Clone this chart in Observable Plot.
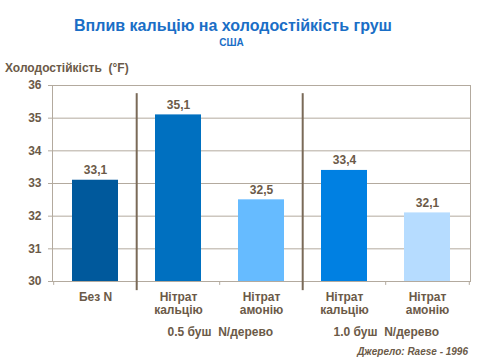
<!DOCTYPE html>
<html>
<head>
<meta charset="utf-8">
<script src="https://cdn.jsdelivr.net/npm/d3@7"></script>
<script src="https://cdn.jsdelivr.net/npm/@observablehq/plot@0.6"></script>
<style>
  html, body { margin: 0; padding: 0; background: #fff; }
  #wrap { position: relative; width: 480px; height: 360px; font-family: "Liberation Sans", Arial, sans-serif; overflow: hidden; }
  .t { position: absolute; white-space: nowrap; font-weight: bold; }
  #title { left: 0; width: 466px; top: 17px; text-align: center; font-size: 16px; color: #1a6ec6; }
  #sub { left: 0; width: 463px; top: 37px; text-align: center; font-size: 10px; color: #1a6ec6; }
  #ylab { left: 5px; top: 61px; font-size: 12px; color: #6b5a48; }
  #src { right: 12px; top: 346px; font-size: 10px; font-style: italic; color: #6b5a48; }
  #chart { position: absolute; left: 0; top: 78px; }
</style>
</head>
<body>
<div id="wrap">
  <div class="t" id="title">Вплив кальцію на холодостійкість груш</div>
  <div class="t" id="sub">США</div>
  <div class="t" id="ylab">Холодостійкість&nbsp; (°F)</div>
  <div id="chart"></div>
  <div class="t" id="src">Джерело: Raese - 1996</div>
</div>
<script>
const keys = ["none", "ca05", "am05", "ca10", "am10"];
const labels = ["Без N", "Нітрат\nкальцію", "Нітрат\nамонію", "Нітрат\nкальцію", "Нітрат\nамонію"];
const values = [33.1, 35.1, 32.5, 33.4, 32.1];
const colors = ["#00599c", "#0070c0", "#66bbff", "#0080e2", "#b6dcff"];
const groupLabels = ["0.5 буш  N/дерево", "1.0 буш  N/дерево"];
const groupAfter = ["ca05", "ca10"];   // group label sits at the right edge of this category
const separatorBefore = ["ca05", "ca10"];
const yTicks = [30, 31, 32, 33, 34, 35, 36];

const data = keys.map((k, i) => ({key: k, label: labels[i], value: values[i], color: colors[i]}));
const labelOf = Object.fromEntries(keys.map((k, i) => [k, labels[i]]));

const W = 480, H = 282, mL = 52, mR = 10, mT = 7, mB = 79;
const step = (W - mL - mR) / keys.length;
const ink = "#6b5a48", grid = "#b3aa9e";

const chart = Plot.plot({
  width: W, height: H,
  marginLeft: mL, marginRight: mR, marginTop: mT, marginBottom: mB,
  style: {fontFamily: "Liberation Sans, Arial, sans-serif", fontSize: "12px", color: ink, fontWeight: "bold"},
  x: {domain: keys, paddingInner: 0.44, paddingOuter: 0.22, label: null},
  y: {domain: [30, 36], label: null},
  color: {type: "identity"},
  marks: [
    Plot.ruleY(yTicks, {stroke: grid, strokeWidth: 1}),
    Plot.frame({stroke: grid, strokeWidth: 1}),
    Plot.axisY({ticks: yTicks, tickFormat: d => String(d), tickSize: 4, tickPadding: 7, stroke: grid, fill: ink, fontSize: 12, fontWeight: "bold"}),
    Plot.ruleX(keys, {x: d => d, dx: -step / 2, y1: 30, y2: 29.88, stroke: grid}),
    Plot.ruleX([keys[keys.length - 1]], {x: d => d, dx: step / 2, y1: 30, y2: 29.88, stroke: grid}),
    Plot.barY(data, {x: "key", y1: 30, y2: "value", fill: "color"}),
    Plot.text(data, {x: "key", y: "value", text: d => d.value.toFixed(1).replace(".", ","), dy: -10, fill: ink, fontSize: 12, fontWeight: "bold"}),
    Plot.ruleX(separatorBefore, {x: d => d, dx: -step / 2, y1: 35.75, y2: 29.72, stroke: "#7a6a58", strokeWidth: 2}),
    Plot.axisX({tickSize: 0, tickPadding: 10, tickFormat: d => labelOf[d], fill: ink, fontSize: 12, fontWeight: "bold", lineHeight: 1.1}),
    Plot.text(groupAfter.map((k, i) => ({key: k, label: groupLabels[i]})), {x: "key", y: () => 30, text: "label", dx: step / 2, dy: 51, fill: ink, fontSize: 12, fontWeight: "bold"})
  ]
});
document.getElementById("chart").appendChild(chart);
</script>
</body>
</html>
